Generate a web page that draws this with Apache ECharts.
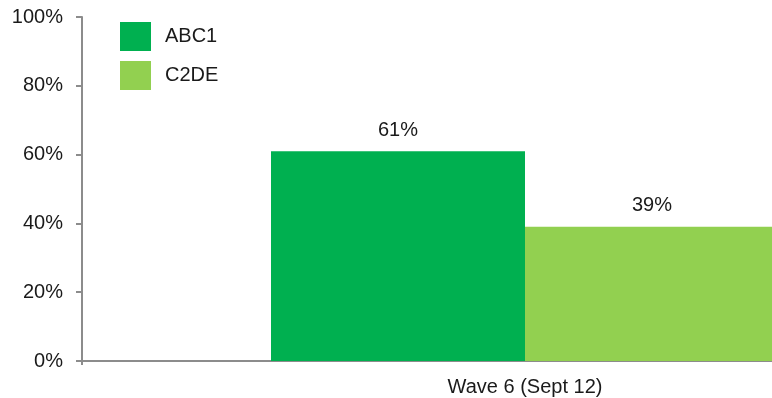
<!DOCTYPE html>
<html>
<head>
<meta charset="utf-8">
<script src="https://cdn.jsdelivr.net/npm/echarts@6/dist/echarts.min.js"></script>
<style>
  html, body { margin: 0; padding: 0; background: #fff; overflow: hidden; }
  /* the plot runs past the right edge of the visible page */
  #chart { width: 1000px; height: 398px; }
</style>
</head>
<body>
<div id="chart"></div>
<script>
// Share of respondents by social grade
const categories = ['Wave 6 (Sept 12)'];
const seriesNames = ['ABC1', 'C2DE'];
const abc1Values = [61];
const c2deValues = [39];
const yTicks = { min: 0, max: 100, step: 20 };
const colors = ['#00B050', '#92D050'];

const FONT = '"Liberation Sans", Arial, sans-serif';
const AXIS_GREY = '#8c8c8c';

const chart = echarts.init(document.getElementById('chart'), null, { renderer: 'canvas' });

const labelStyle = {
  show: true,
  position: 'top',
  distance: 11,
  formatter: '{c}%',
  fontFamily: FONT,
  fontSize: 20,
  color: '#1a1a1a'
};

chart.setOption({
  animation: false,
  backgroundColor: '#ffffff',
  textStyle: { fontFamily: FONT },
  legend: {
    orient: 'vertical',
    left: 120,
    top: 22,
    padding: 0,
    itemWidth: 31,
    itemHeight: 29,
    itemGap: 10,
    icon: 'rect',
    data: seriesNames,
    textStyle: { fontFamily: FONT, fontSize: 20, color: '#1a1a1a', padding: [5, 0, 0, 9] }
  },
  grid: {
    left: 82,
    top: 17,
    width: 886,
    height: 344,
    containLabel: false
  },
  xAxis: {
    type: 'category',
    data: categories,
    axisLine: { show: true, lineStyle: { color: AXIS_GREY, width: 2 } },
    axisTick: { show: true, length: 4, lineStyle: { color: AXIS_GREY, width: 2 } },
    axisLabel: { margin: 16, fontFamily: FONT, fontSize: 20, color: '#1a1a1a' },
    splitLine: { show: false }
  },
  yAxis: {
    type: 'value',
    min: yTicks.min,
    max: yTicks.max,
    interval: yTicks.step,
    axisLine: { show: true, lineStyle: { color: AXIS_GREY, width: 2 } },
    axisTick: { show: true, length: 6, lineStyle: { color: AXIS_GREY, width: 2 } },
    axisLabel: { margin: 19, formatter: '{value}%', fontFamily: FONT, fontSize: 20, color: '#1a1a1a' },
    splitLine: { show: false }
  },
  series: [
    {
      name: seriesNames[0],
      type: 'bar',
      data: abc1Values,
      barWidth: 254,
      barGap: '0%',
      itemStyle: { color: colors[0] },
      label: labelStyle
    },
    {
      name: seriesNames[1],
      type: 'bar',
      data: c2deValues,
      barWidth: 254,
      barGap: '0%',
      itemStyle: { color: colors[1] },
      label: labelStyle
    }
  ]
});
</script>
</body>
</html>
